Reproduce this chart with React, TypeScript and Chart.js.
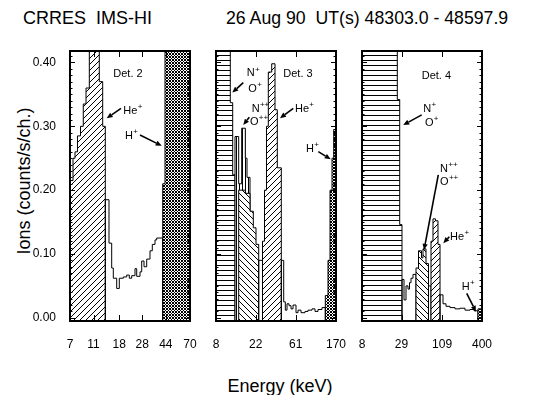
import React, { useEffect, useRef } from 'react';
import { Chart, registerables } from 'chart.js';

Chart.register(...registerables);

const FONT = '"Liberation Sans", Arial, Helvetica, sans-serif';

const yMin = -0.005;
const yMax = 0.418;
const yTickValues = [0, 0.1, 0.2, 0.3, 0.4];

// ---------- Det. 2 ----------
const det2XRange = [7, 70];
const det2XTicks = [7, 11, 18, 28, 44, 70];
const det2HeEdges = [7, 7.415, 7.705, 8.08, 8.56, 9.03, 9.52, 10.14, 11.16, 12.28, 13.11, 13.78];
const det2HeCounts = [0.215, 0.25, 0.26, 0.285, 0.3, 0.335, 0.36, 0.5, 0.5, 0.37, 0.3];
const det2LowEdges = [13.78, 14.79, 15.58, 16.07, 17.15, 18.03, 19.47, 20.78, 21.84, 22.87, 24.36, 25.17, 26.82, 27.71, 28.96, 30.5, 32.49, 33.96, 35.77, 36.95, 41.46];
const det2LowCounts = [0.185, 0.117, 0.078, 0.062, 0.046, 0.062, 0.064, 0.067, 0.062, 0.066, 0.077, 0.065, 0.072, 0.089, 0.08, 0.092, 0.105, 0.115, 0.122, 0.125];
const det2HEdges = [41.46, 43.33, 70];
const det2HCounts = [0.21, 0.5];

// ---------- Det. 3 ----------
const det3XRange = [8, 170];
const det3XTicks = [8, 22, 61, 170];
const det3OEdges = [8, 11.51, 12.24, 12.98];
const det3OCounts = [0.5, 0.337, 0.224];
const det3O2PeakEdges = [12.98, 14.26, 15.39, 16.88, 17.62, 19.02];
const det3O2PeakCounts = [0.284, 0.21, 0.297, 0.25, 0.22];
const det3O2Edges = [14.26, 16.88, 19.02, 20.69, 22.16, 23.74];
const det3O2Counts = [0.2, 0.195, 0.167, 0.141, 0.115];
const det3GapEdges = [23.74, 26.15];
const det3GapCounts = [0.09];
const det3HeEdges = [26.15, 27.52, 28.95, 30.31, 33.06, 35.96, 38.12, 42.22];
const det3HeCounts = [0.12, 0.2, 0.3, 0.385, 0.398, 0.326, 0.235];
const det3LowEdges = [42.22, 44.88, 46.75, 48.82, 51.37, 54.06, 56.89, 61.39, 64.59, 69.72, 77.2, 83.33, 92.26, 99.6, 107.5, 119.0, 129.5];
const det3LowCounts = [0.09, 0.025, 0.012, 0.022, 0.019, 0.014, 0.02, 0.008, 0.012, 0.008, 0.01, 0.012, 0.014, 0.01, 0.013, 0.016];
const det3HEdges = [129.5, 138.7, 146.0, 153.6, 160.4, 170];
const det3HCounts = [0.035, 0.09, 0.2, 0.25, 0.295];

// ---------- Det. 4 ----------
const det4XRange = [8, 400];
const det4XTicks = [8, 29, 109, 400];
const det4OEdges = [8, 25.29, 27.35, 29.47];
const det4OCounts = [0.5, 0.342, 0.146];
const det4LowAEdges = [29.47, 31.46, 33.58, 35.84, 37.64, 39.53, 42.19, 46.52];
const det4LowACounts = [0.06, 0.028, 0.05, 0.045, 0.055, 0.062, 0.068];
const det4O2Edges = [46.52, 50.48, 55.66, 58.46, 64.46, 69.91];
const det4O2Counts = [0.078, 0.105, 0.094, 0.108, 0.085];
const det4GapEdges = [69.91, 75.86];
const det4GapCounts = [0.05];
const det4HeEdges = [75.86, 80.96, 87.83, 95.29, 101.8];
const det4HeCounts = [0.12, 0.155, 0.152, 0.115];
const det4LowBEdges = [101.8, 112.2, 123.7, 141.0, 165.9, 195.3, 229.8, 270.5, 308.2, 351.0];
const det4LowBCounts = [0.036, 0.022, 0.018, 0.016, 0.014, 0.015, 0.012, 0.013, 0.011];
const det4HEdges = [351.0, 400];
const det4HCounts = [0.014];

type Region = { edges: number[]; counts: number[]; fill: string | null };
type Label = { text: string; sup?: string; x: number; y: number };
type Arrow = { x1: number; y1: number; x2: number; y2: number };

const det2Labels: Label[] = [
  { text: 'Det. 2', x: 16.07, y: 0.382 },
  { text: 'He', sup: '+', x: 19.47, y: 0.324 },
  { text: 'H', sup: '+', x: 20.11, y: 0.285 },
];
const det2Arrows: Arrow[] = [
  { x1: 18.63, y1: 0.328, x2: 14.15, y2: 0.3127 },
  { x1: 26.82, y1: 0.2865, x2: 40.67, y2: 0.2694 },
];
const det3Labels: Label[] = [
  { text: 'Det. 3', x: 44.4, y: 0.382 },
  { text: 'N', sup: '+', x: 17.49, y: 0.383 },
  { text: 'O', sup: '+', x: 18.2, y: 0.3586 },
  { text: 'N', sup: '++', x: 19.86, y: 0.327 },
  { text: 'O', sup: '++', x: 19.02, y: 0.307 },
  { text: 'He', sup: '+', x: 59.8, y: 0.327 },
  { text: 'H', sup: '+', x: 79.2, y: 0.2646 },
];
const det3Arrows: Arrow[] = [
  { x1: 16.03, y1: 0.3685, x2: 12.12, y2: 0.3528 },
  { x1: 18.68, y1: 0.3143, x2: 16.03, y2: 0.302 },
  { x1: 57.3, y1: 0.328, x2: 40.8, y2: 0.3127 },
  { x1: 108.3, y1: 0.2603, x2: 148.6, y2: 0.2484 },
];
const det4Labels: Label[] = [
  { text: 'Det. 4', x: 56.0, y: 0.379 },
  { text: 'N', sup: '+', x: 59.0, y: 0.327 },
  { text: 'O', sup: '+', x: 62.4, y: 0.306 },
  { text: 'N', sup: '++', x: 101.8, y: 0.2332 },
  { text: 'O', sup: '++', x: 101.8, y: 0.2133 },
  { text: 'He', sup: '+', x: 141, y: 0.127 },
  { text: 'H', sup: '+', x: 206, y: 0.0487 },
];
const det4Arrows: Arrow[] = [
  { x1: 56.0, y1: 0.318, x2: 30.7, y2: 0.302 },
  { x1: 96.2, y1: 0.2238, x2: 60.4, y2: 0.1063 },
  { x1: 137.8, y1: 0.127, x2: 113.3, y2: 0.1168 },
  { x1: 243, y1: 0.0384, x2: 329, y2: 0.0096 },
];

type PanelCfg = {
  left: number;
  width: number;
  padLeft: number;
  showY: boolean;
  range: number[];
  ticks: number[];
  regions: Region[];
  labels: Label[];
  arrows: Arrow[];
};

const panels: PanelCfg[] = [
  {
    left: 0, width: 200, padLeft: 0, showY: true, range: det2XRange, ticks: det2XTicks,
    regions: [
      { edges: det2HeEdges, counts: det2HeCounts, fill: 'slash' },
      { edges: det2LowEdges, counts: det2LowCounts, fill: null },
      { edges: det2HEdges, counts: det2HCounts, fill: 'stipple' },
    ],
    labels: det2Labels, arrows: det2Arrows,
  },
  {
    left: 200, width: 146, padLeft: 16, showY: false, range: det3XRange, ticks: det3XTicks,
    regions: [
      { edges: det3OEdges, counts: det3OCounts, fill: 'horiz' },
      { edges: det3O2PeakEdges, counts: det3O2PeakCounts, fill: 'vert' },
      { edges: det3O2Edges, counts: det3O2Counts, fill: 'back' },
      { edges: det3GapEdges, counts: det3GapCounts, fill: null },
      { edges: det3HeEdges, counts: det3HeCounts, fill: 'slash' },
      { edges: det3LowEdges, counts: det3LowCounts, fill: null },
      { edges: det3HEdges, counts: det3HCounts, fill: 'stipple' },
    ],
    labels: det3Labels, arrows: det3Arrows,
  },
  {
    left: 346, width: 146, padLeft: 16, showY: false, range: det4XRange, ticks: det4XTicks,
    regions: [
      { edges: det4OEdges, counts: det4OCounts, fill: 'horiz' },
      { edges: det4LowAEdges, counts: det4LowACounts, fill: null },
      { edges: det4O2Edges, counts: det4O2Counts, fill: 'back' },
      { edges: det4GapEdges, counts: det4GapCounts, fill: null },
      { edges: det4HeEdges, counts: det4HeCounts, fill: 'slash' },
      { edges: det4LowBEdges, counts: det4LowBCounts, fill: null },
      { edges: det4HEdges, counts: det4HCounts, fill: 'stipple' },
    ],
    labels: det4Labels, arrows: det4Arrows,
  },
];

function steps(edges: number[], counts: number[]) {
  const pts: { x: number; y: number }[] = [{ x: edges[0], y: yMin }];
  counts.forEach((c, i) => pts.push({ x: edges[i], y: c }));
  pts.push({ x: edges[edges.length - 1], y: yMin });
  return pts;
}

function makePattern(kind: string): CanvasPattern | string {
  const size = kind === 'horiz' ? 5 : kind === 'stipple' ? 3 : kind === 'vert' ? 3 : 6;
  const c = document.createElement('canvas');
  c.width = size;
  c.height = size;
  const g = c.getContext('2d');
  if (!g) return '#888';
  g.fillStyle = '#fff';
  g.fillRect(0, 0, size, size);
  g.fillStyle = '#000';
  for (let y = 0; y < size; y++) {
    for (let x = 0; x < size; x++) {
      let on = false;
      if (kind === 'slash') on = (x + y) % size === size - 1;
      if (kind === 'back') on = x === y;
      if (kind === 'horiz') on = y === 0;
      if (kind === 'vert') on = x === 0;
      if (kind === 'stipple') {
        const a = (x + y) % 3;
        const b = (((x - y) % 3) + 3) % 3;
        on = a === 0 || b === 0;
      }
      if (on) g.fillRect(x, y, 1, 1);
    }
  }
  return g.createPattern(c, 'repeat') || '#888';
}

function framePlugin(cfg: PanelCfg) {
  return {
    id: 'frame',
    afterDraw(chart: any) {
      const { ctx, chartArea: a, scales } = chart;
      const xs = scales.x;
      const ys = scales.y;
      ctx.save();
      ctx.strokeStyle = '#000';
      ctx.fillStyle = '#000';
      ctx.lineWidth = 1;
      const seg = (x1: number, y1: number, x2: number, y2: number) => {
        ctx.beginPath();
        ctx.moveTo(x1, y1);
        ctx.lineTo(x2, y2);
        ctx.stroke();
      };
      for (let k = 0; k <= 41; k++) {
        const py = Math.round(ys.getPixelForValue(k / 100)) + 0.5;
        const len = k % 10 === 0 ? 5 : 2.5;
        seg(a.left, py, a.left + len, py);
        seg(a.right - len, py, a.right, py);
      }
      for (const t of xs.ticks) {
        const px = Math.round(xs.getPixelForValue(t.value)) + 0.5;
        if (px < a.left + 2 || px > a.right - 2) continue;
        seg(px, a.top, px, a.top + 6);
        seg(px, a.bottom - 6, px, a.bottom);
      }
      ctx.lineWidth = 2;
      ctx.strokeRect(a.left, a.top, a.right - a.left, a.bottom - a.top);

      for (const ar of cfg.arrows) {
        const x1 = xs.getPixelForValue(ar.x1);
        const y1 = ys.getPixelForValue(ar.y1);
        const x2 = xs.getPixelForValue(ar.x2);
        const y2 = ys.getPixelForValue(ar.y2);
        const ang = Math.atan2(y2 - y1, x2 - x1);
        const hl = 6;
        const hw = 2.6;
        const bx = x2 - hl * Math.cos(ang);
        const by = y2 - hl * Math.sin(ang);
        ctx.lineWidth = 1.6;
        seg(x1, y1, bx, by);
        ctx.beginPath();
        ctx.moveTo(x2, y2);
        ctx.lineTo(bx + hw * Math.sin(ang), by - hw * Math.cos(ang));
        ctx.lineTo(bx - hw * Math.sin(ang), by + hw * Math.cos(ang));
        ctx.closePath();
        ctx.fill();
      }
      ctx.textAlign = 'left';
      ctx.textBaseline = 'middle';
      for (const lb of cfg.labels) {
        const px = xs.getPixelForValue(lb.x);
        const py = ys.getPixelForValue(lb.y);
        ctx.font = `11px ${FONT}`;
        ctx.fillText(lb.text, px, py);
        if (lb.sup) {
          const w = ctx.measureText(lb.text).width;
          ctx.font = `8px ${FONT}`;
          ctx.fillText(lb.sup, px + w + 0.3, py - 4);
        }
      }
      ctx.restore();
    },
  };
}

function Panel({ cfg }: { cfg: PanelCfg }) {
  const ref = useRef<HTMLCanvasElement | null>(null);
  useEffect(() => {
    const canvas = ref.current;
    if (!canvas) return;
    const datasets = cfg.regions.map((r, i) => ({
      data: steps(r.edges, r.counts),
      borderColor: '#000',
      borderWidth: 1,
      backgroundColor: r.fill ? makePattern(r.fill) : 'rgba(0,0,0,0)',
      fill: r.fill ? { value: yMin } : false,
      stepped: true,
      pointRadius: 0,
      tension: 0,
      order: -i,
    }));
    const chart = new Chart(canvas, {
      type: 'line',
      data: { datasets } as any,
      options: {
        responsive: false,
        animation: false,
        devicePixelRatio: 1,
        events: [],
        layout: { padding: { left: cfg.padLeft, right: 10, top: 11, bottom: 0 } },
        plugins: {
          legend: { display: false },
          tooltip: { enabled: false },
          title: { display: false },
        },
        scales: {
          x: {
            type: 'logarithmic',
            min: cfg.range[0],
            max: cfg.range[1],
            grid: { display: false },
            border: { display: false },
            ticks: {
              autoSkip: false,
              maxRotation: 0,
              minRotation: 0,
              color: '#000',
              padding: 8,
              font: { family: FONT, size: 12 },
              callback: (v: any) => String(v),
            },
            afterBuildTicks: (s: any) => {
              s.ticks = cfg.ticks.map((v) => ({ value: v }));
            },
            afterFit: (s: any) => {
              s.height = 39;
              s.paddingLeft = 0;
              s.paddingRight = 0;
              s.paddingTop = 0;
              s.paddingBottom = 0;
            },
          },
          y: {
            type: 'linear',
            min: yMin,
            max: yMax,
            display: cfg.showY,
            grid: { display: false },
            border: { display: false },
            ticks: {
              color: '#000',
              padding: 6,
              font: { family: FONT, size: 12 },
              callback: (v: any) => Number(v).toFixed(2),
            },
            afterBuildTicks: (s: any) => {
              s.ticks = yTickValues.map((v) => ({ value: v }));
            },
            afterFit: (s: any) => {
              s.width = cfg.showY ? 70 : 0;
              s.paddingTop = 0;
              s.paddingBottom = 0;
              s.paddingLeft = 0;
              s.paddingRight = 0;
            },
          },
        },
      } as any,
      plugins: [framePlugin(cfg)],
    });
    return () => chart.destroy();
  }, [cfg]);
  return (
    <canvas
      ref={ref}
      width={cfg.width}
      height={320}
      style={{ position: 'absolute', left: cfg.left, top: 40, width: cfg.width, height: 320 }}
    />
  );
}

export default function App() {
  const textStyle: React.CSSProperties = {
    position: 'absolute',
    fontFamily: FONT,
    fontSize: 18,
    lineHeight: '18px',
    color: '#000',
    whiteSpace: 'pre',
  };
  return (
    <div style={{ position: 'absolute', left: 0, top: 0, width: 541, height: 395, background: '#fff', overflow: 'hidden' }}>
      <div style={{ ...textStyle, left: 23, top: 9 }}>CRRES  IMS-HI</div>
      <div style={{ ...textStyle, left: 226, top: 9, fontSize: 17.7 }}>26 Aug 90  UT(s) 48303.0 - 48597.9</div>
      <div
        style={{
          ...textStyle,
          left: 24,
          top: 181,
          transform: 'translate(-50%, -50%) rotate(-90deg)',
        }}
      >
        Ions (counts/s/ch.)
      </div>
      <div style={{ ...textStyle, left: 280, top: 386, transform: 'translate(-50%, -50%)' }}>Energy (keV)</div>
      {panels.map((p, i) => (
        <Panel key={i} cfg={p} />
      ))}
    </div>
  );
}
